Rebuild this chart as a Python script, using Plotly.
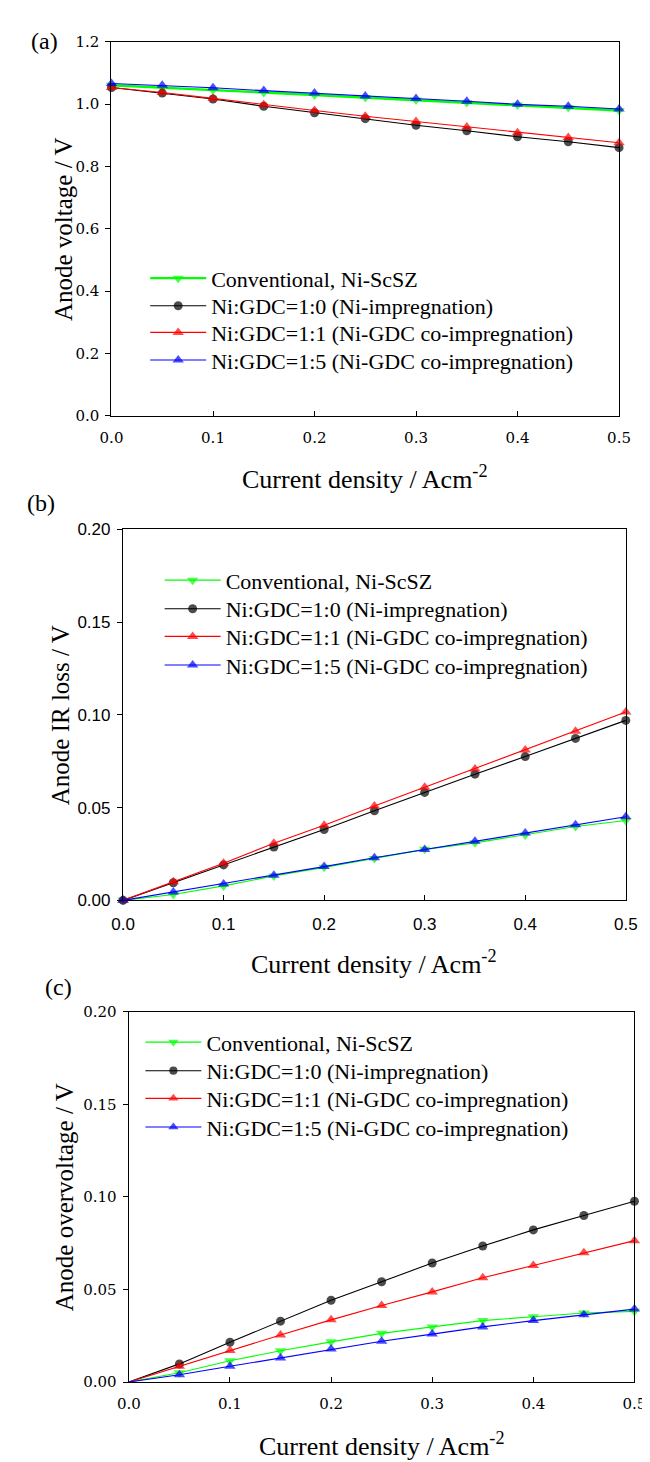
import plotly.graph_objects as go

W, H = 650, 1462

current = [0.0, 0.05, 0.10, 0.15, 0.20, 0.25, 0.30, 0.35, 0.40, 0.45, 0.50]

names = ["Conventional, Ni-ScSZ",
         "Ni:GDC=1:0 (Ni-impregnation)",
         "Ni:GDC=1:1 (Ni-GDC co-impregnation)",
         "Ni:GDC=1:5 (Ni-GDC co-impregnation)"]

# (a) Anode voltage / V
volt_conv = [1.060, 1.053, 1.045, 1.037, 1.029, 1.021, 1.013, 1.005, 0.997, 0.989, 0.979]
volt_ni10 = [1.053, 1.035, 1.016, 0.993, 0.972, 0.953, 0.932, 0.914, 0.895, 0.879, 0.860]
volt_ni11 = [1.053, 1.037, 1.018, 0.998, 0.979, 0.961, 0.944, 0.926, 0.908, 0.893, 0.876]
volt_ni15 = [1.066, 1.060, 1.052, 1.043, 1.035, 1.026, 1.018, 1.009, 0.999, 0.993, 0.984]

# (b) Anode IR loss / V
ir_conv = [0.0, 0.0032, 0.0078, 0.0132, 0.0178, 0.0225, 0.0275, 0.0310, 0.0352, 0.0398, 0.0430]
ir_ni10 = [0.0, 0.0095, 0.0191, 0.0287, 0.0382, 0.0483, 0.0582, 0.0680, 0.0775, 0.0873, 0.0970]
ir_ni11 = [0.0, 0.0100, 0.0200, 0.0308, 0.0405, 0.0508, 0.0610, 0.0708, 0.0810, 0.0912, 0.1015]
ir_ni15 = [0.0, 0.0045, 0.0088, 0.0136, 0.0182, 0.0230, 0.0274, 0.0319, 0.0363, 0.0407, 0.0451]

# (c) Anode overvoltage / V
ov_conv = [0.0, 0.0050, 0.0115, 0.0169, 0.0217, 0.0263, 0.0298, 0.0332, 0.0353, 0.0373, 0.0382]
ov_ni10 = [0.0, 0.0098, 0.0215, 0.0329, 0.0442, 0.0542, 0.0643, 0.0735, 0.0822, 0.0900, 0.0977]
ov_ni11 = [0.0, 0.0085, 0.0171, 0.0254, 0.0336, 0.0414, 0.0487, 0.0563, 0.0630, 0.0698, 0.0764]
ov_ni15 = [0.0, 0.0039, 0.0085, 0.0130, 0.0179, 0.0220, 0.0259, 0.0298, 0.0332, 0.0364, 0.0394]

y_titles = ["Anode voltage / V", "Anode IR loss / V", "Anode overvoltage / V"]
x_title = "Current density / Acm<sup>-2</sup>"
panel_labels = ["(a)", "(b)", "(c)"]

colors = ["#00ff00", "#000000", "#ff0000", "#0000ff"]
symbols = ["triangle-down", "circle", "triangle-up", "triangle-up"]
msizes = [10, 9, 10, 10]

SERIF = "Liberation Serif, Times New Roman, serif"
TICKSERIF = "DejaVu Serif, serif"
SANS = "Liberation Sans, Arial, sans-serif"

# panel boxes in pixels: left, right, top, bottom
boxes = [(95, 622, 25, 404), (107, 629, 519, 895), (113, 638, 1008, 1383)]

# legend placement per panel: legend x (px) and row centre y (px)
legend_x = [130, 145, 125]
legend_rows = [[266, 294, 321, 349], [572, 601, 629, 658], [1040, 1069, 1097, 1126]]


def px_x(x):
    return x / W


def px_y(y):
    return 1 - y / H


fig = go.Figure()

panels = [
    ([volt_conv, volt_ni10, volt_ni11, volt_ni15], True),
    ([ir_conv, ir_ni10, ir_ni11, ir_ni15], True),
    ([ov_conv, ov_ni10, ov_ni11, ov_ni15], False),
]

layout = dict(width=W, height=H, margin=dict(l=0, r=0, t=0, b=0),
              paper_bgcolor="white", plot_bgcolor="white", showlegend=True)

for p, (series, first_marker) in enumerate(panels):
    xa = "x" if p == 0 else f"x{p+1}"
    ya = "y" if p == 0 else f"y{p+1}"
    for i, vals in enumerate(series):
        k = p * 4 + i
        leg = "legend" if k == 0 else f"legend{k+1}"
        sizes = [msizes[i]] * len(vals)
        if not first_marker:
            sizes[0] = 0
        lw = 2.4 if (p == 0 and i == 0) else 1.1
        fig.add_trace(go.Scatter(
            x=current, y=vals, mode="lines+markers", name=names[i],
            line=dict(color=colors[i], width=lw),
            marker=dict(symbol=symbols[i], color=colors[i], size=sizes,
                        line=dict(width=0)),
            xaxis=xa, yaxis=ya, legend=leg, cliponaxis=False,
        ))
        layout[leg] = dict(
            x=px_x(legend_x[p]), y=px_y(legend_rows[p][i] - 22.5),
            xanchor="left", yanchor="top", bgcolor="rgba(0,0,0,0)", borderwidth=0,
            font=dict(family=SERIF, size=22, color="black"), itemwidth=56)

axis_common = dict(showline=True, linecolor="black", linewidth=1.3, mirror=True,
                   showgrid=False, zeroline=False, ticklen=5, tickwidth=1,
                   tickcolor="black")

yinfo = [
    dict(range=[0, 1.2], dtick=0.2, tickformat=".1f"),
    dict(range=[0, 0.2], dtick=0.05, tickformat=".2f"),
    dict(range=[0, 0.2], dtick=0.05, tickformat=".2f"),
]
tickfonts = [dict(family=TICKSERIF, size=15, color="black"),
             dict(family=SANS, size=17, color="black"),
             dict(family=TICKSERIF, size=15, color="black")]

annotations = []
ytitle_x = [45, 42, 47]
label_pos = [(25, 24), (22, 492), (40, 983)]

for p in range(3):
    l, r, t, b = boxes[p]
    sx = "" if p == 0 else str(p + 1)
    tf = tickfonts[p]
    layout["xaxis" + sx] = dict(
        axis_common, domain=[px_x(l), px_x(r)], anchor="y" + sx, range=[0, 0.5],
        dtick=0.1, tickformat=".1f", ticks="inside", tickfont=tf,
        ticklabelstandoff=8,
    )
    layout["yaxis" + sx] = dict(
        axis_common, domain=[px_y(b), px_y(t)], anchor="x" + sx,
        range=yinfo[p]["range"], dtick=yinfo[p]["dtick"],
        tickformat=yinfo[p]["tickformat"], ticks="outside", tickfont=tf,
        ticklabelstandoff=3,
    )
    annotations.append(dict(
        text=x_title, x=px_x((l + r) / 2), y=px_y(b + 63), xref="paper", yref="paper",
        xanchor="center", yanchor="middle", showarrow=False,
        font=dict(family=SERIF, size=26, color="black")))
    annotations.append(dict(
        text=y_titles[p], x=px_x(ytitle_x[p]), y=px_y((t + b) / 2), xref="paper",
        yref="paper", xanchor="center", yanchor="middle", textangle=-90,
        showarrow=False, font=dict(family=SERIF, size=25, color="black")))
    lx, ly = label_pos[p]
    annotations.append(dict(
        text=panel_labels[p], x=px_x(lx), y=px_y(ly), xref="paper", yref="paper",
        xanchor="center", yanchor="middle", showarrow=False,
        font=dict(family=SERIF, size=24, color="black")))

layout["annotations"] = annotations

fig.update_layout(**layout)
fig.write_html("out.html")
